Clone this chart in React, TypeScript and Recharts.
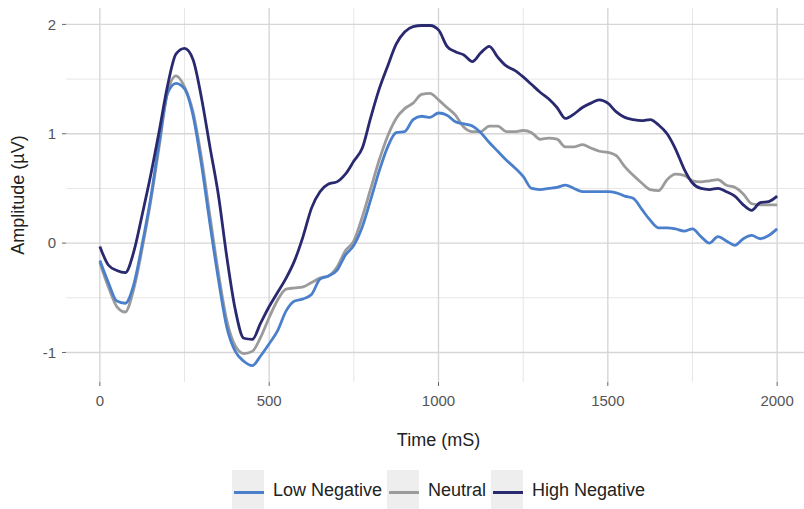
import React from "react";
import { LineChart, Line, XAxis, YAxis, CartesianGrid, Legend } from "recharts";

// time in ms, sampled every 25 ms
const timeMs = [
  0, 25, 50, 75, 100, 125, 150, 175, 200, 225, 250, 275, 300, 325, 350, 375, 400, 425, 450, 475,
  500, 525, 550, 575, 600, 625, 650, 675, 700, 725, 750, 775, 800, 825, 850, 875, 900, 925, 950, 975,
  1000, 1025, 1050, 1075, 1100, 1125, 1150, 1175, 1200, 1225, 1250, 1275, 1300, 1325, 1350, 1375, 1400, 1425, 1450, 1475,
  1500, 1525, 1550, 1575, 1600, 1625, 1650, 1675, 1700, 1725, 1750, 1775, 1800, 1825, 1850, 1875, 1900, 1925, 1950, 1975,
  2000,
];

const lowNegative = [
  -0.16, -0.36, -0.53, -0.55, -0.38, -0.01, 0.41, 0.92, 1.37, 1.46, 1.41, 1.17, 0.72, 0.18, -0.33, -0.77, -0.99, -1.08, -1.12, -1.03,
  -0.92, -0.8, -0.62, -0.53, -0.51, -0.47, -0.33, -0.3, -0.25, -0.11, -0.02, 0.15, 0.4, 0.66, 0.88, 1.01, 1.02, 1.13, 1.16, 1.15,
  1.19, 1.17, 1.11, 1.09, 1.07, 1.01, 0.92, 0.84, 0.76, 0.69, 0.61, 0.5, 0.49, 0.5, 0.51, 0.53, 0.5, 0.47, 0.47, 0.47,
  0.47, 0.46, 0.43, 0.41, 0.31, 0.21, 0.14, 0.14, 0.13, 0.11, 0.13, 0.06, 0.0, 0.06, 0.02, -0.02, 0.04, 0.07, 0.04, 0.07,
  0.13,
];

const neutral = [
  -0.18, -0.4, -0.58, -0.63, -0.42, -0.05, 0.38, 0.88, 1.38, 1.53, 1.43, 1.2, 0.78, 0.25, -0.27, -0.71, -0.94, -1.01, -0.99, -0.86,
  -0.68, -0.52, -0.42, -0.41, -0.4, -0.36, -0.32, -0.3, -0.22, -0.07, 0.02, 0.24, 0.5, 0.76, 0.98, 1.14, 1.23, 1.28, 1.36, 1.37,
  1.31, 1.24, 1.17, 1.06, 1.02, 1.02, 1.07, 1.07, 1.02, 1.02, 1.03, 1.01, 0.95, 0.96, 0.95, 0.88, 0.88, 0.9, 0.87, 0.84,
  0.83, 0.8, 0.7, 0.62, 0.55, 0.49, 0.48, 0.58, 0.63, 0.62, 0.57, 0.56, 0.57, 0.58, 0.53, 0.51, 0.45, 0.36, 0.35, 0.35,
  0.35,
];

const highNegative = [
  -0.03, -0.2, -0.25, -0.27, -0.08, 0.26, 0.62, 1.02, 1.44, 1.73, 1.78, 1.68, 1.33, 0.88, 0.44, -0.13, -0.61, -0.87, -0.88, -0.73,
  -0.58, -0.45, -0.32, -0.16, 0.06, 0.32, 0.47, 0.54, 0.56, 0.63, 0.75, 0.87, 1.15, 1.41, 1.62, 1.82, 1.93, 1.98, 1.99, 1.99,
  1.95, 1.8, 1.75, 1.72, 1.66, 1.74, 1.8, 1.7, 1.62, 1.58, 1.52, 1.45, 1.38, 1.32, 1.24, 1.14, 1.18, 1.24, 1.28, 1.31,
  1.28, 1.2, 1.15, 1.13, 1.12, 1.13, 1.08, 1.0, 0.86, 0.68, 0.55, 0.5, 0.49, 0.5, 0.47, 0.43, 0.35, 0.3, 0.37, 0.38,
  0.43,
];

const xTicks = [0, 500, 1000, 1500, 2000];
const xMinor = [250, 750, 1250, 1750];
const yTicks = [-1, 0, 1, 2];
const yMinor = [-0.5, 0.5, 1.5];

const series = [
  { key: "low", name: "Low Negative", color: "#4a7fcb" },
  { key: "neutral", name: "Neutral", color: "#9b9b9b" },
  { key: "high", name: "High Negative", color: "#29296f" },
];

const data = timeMs.map((t, i) => ({
  t,
  low: lowNegative[i],
  neutral: neutral[i],
  high: highNegative[i],
}));

const FONT = "'Liberation Sans', Arial, Helvetica, sans-serif";

const LegendContent = () => (
  <div
    style={{
      display: "flex",
      justifyContent: "center",
      alignItems: "center",
      fontFamily: FONT,
      fontSize: 18,
      color: "#222",
      paddingLeft: 78,
    }}
  >
    {series.map((s) => (
      <div key={s.key} style={{ display: "flex", alignItems: "center", marginRight: 5 }}>
        <div
          style={{
            width: 32,
            height: 40,
            background: "#eeeeee",
            position: "relative",
            marginRight: 9,
          }}
        >
          <div
            style={{
              position: "absolute",
              left: 2,
              right: 0,
              top: 21,
              height: 2.5,
              background: s.color,
            }}
          />
        </div>
        <span>{s.name}</span>
      </div>
    ))}
  </div>
);

export default function App() {
  return (
    <div style={{ position: "absolute", left: 0, top: 0, width: 804, height: 509, background: "#fff" }}>
      <LineChart
        width={804}
        height={509}
        data={data}
        margin={{ top: 8, right: -7, bottom: 97, left: 0 }}
        style={{ fontFamily: FONT }}
      >
        <CartesianGrid
          stroke="#e6e6e6"
          strokeWidth={1}
          horizontalValues={yMinor}
          verticalValues={xMinor}
        />
        <CartesianGrid
          stroke="#d6d6d6"
          strokeWidth={1.4}
          horizontalValues={yTicks}
          verticalValues={xTicks}
        />
        <XAxis
          type="number"
          dataKey="t"
          domain={[-100, 2100]}
          ticks={xTicks}
          allowDataOverflow
          height={30}
          axisLine={false}
          tickSize={4}
          tickMargin={9}
          tickLine={{ stroke: "#666" }}
          tick={{ fill: "#555", fontSize: 15 }}
          label={{ value: "Time (mS)", position: "bottom", offset: 21, fill: "#222", fontSize: 18 }}
        />
        <YAxis
          type="number"
          domain={[-1.27, 2.15]}
          ticks={yTicks}
          allowDataOverflow
          width={66}
          axisLine={false}
          tickSize={4}
          tickMargin={6}
          tickLine={{ stroke: "#666" }}
          tick={{ fill: "#555", fontSize: 15 }}
          label={{
            value: "Amplitude (µV)",
            angle: -90,
            position: "insideLeft",
            offset: 18,
            fill: "#222",
            fontSize: 18,
            style: { textAnchor: "middle" },
          }}
        />
        <Legend
          layout="horizontal"
          verticalAlign="middle"
          align="center"
          content={<LegendContent />}
          wrapperStyle={{ position: "absolute", top: 470, left: 0, width: 804, height: 40 }}
        />
        <Line
          type="monotone"
          dataKey="neutral"
          name="Neutral"
          stroke="#9b9b9b"
          strokeWidth={2.8}
          dot={false}
          isAnimationActive={false}
        />
        <Line
          type="monotone"
          dataKey="low"
          name="Low Negative"
          stroke="#4a7fcb"
          strokeWidth={2.8}
          dot={false}
          isAnimationActive={false}
        />
        <Line
          type="monotone"
          dataKey="high"
          name="High Negative"
          stroke="#29296f"
          strokeWidth={2.8}
          dot={false}
          isAnimationActive={false}
        />
      </LineChart>
    </div>
  );
}
